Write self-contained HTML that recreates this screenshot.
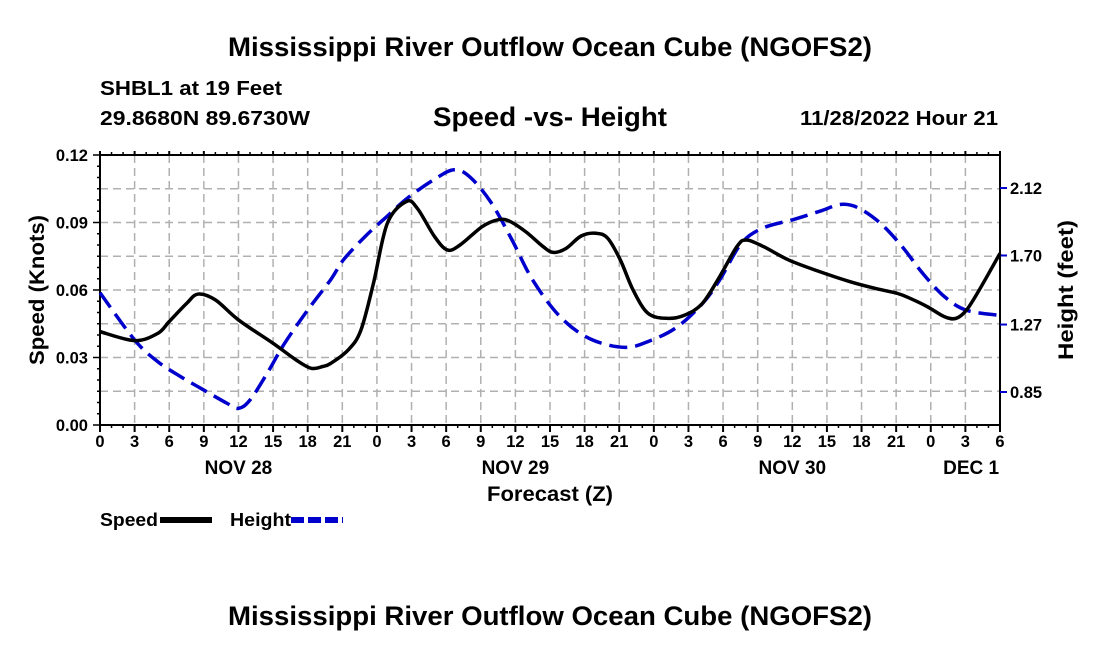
<!DOCTYPE html>
<html><head><meta charset="utf-8"><style>
body{margin:0;background:#fff}
svg text{font-family:"Liberation Sans",sans-serif;font-weight:bold;fill:#000}
</style></head><body>
<svg id="c" width="1100" height="650" xmlns="http://www.w3.org/2000/svg">
<text x="550" y="56" font-size="27" text-anchor="middle" textLength="644" lengthAdjust="spacingAndGlyphs">Mississippi River Outflow Ocean Cube (NGOFS2)</text>
<text x="100" y="95" font-size="20" textLength="182" lengthAdjust="spacingAndGlyphs">SHBL1 at 19 Feet</text>
<text x="100" y="125" font-size="20" textLength="210" lengthAdjust="spacingAndGlyphs">29.8680N  89.6730W</text>
<text x="550" y="126" font-size="27" text-anchor="middle" textLength="234" lengthAdjust="spacingAndGlyphs">Speed -vs- Height</text>
<text x="998" y="125" font-size="20" text-anchor="end" textLength="198" lengthAdjust="spacingAndGlyphs">11/28/2022 Hour 21</text>
<g id="grid"></g><g id="axes"></g><g id="series"></g>
<text transform="translate(44,290) rotate(-90)" font-size="21" text-anchor="middle" textLength="150" lengthAdjust="spacingAndGlyphs">Speed (Knots)</text>
<text transform="translate(1073,290) rotate(-90)" font-size="21" text-anchor="middle" textLength="140" lengthAdjust="spacingAndGlyphs">Height (feet)</text>
<text x="550" y="501" font-size="21" text-anchor="middle" textLength="126" lengthAdjust="spacingAndGlyphs">Forecast (Z)</text>
<g>
<text x="100" y="526" font-size="18" textLength="58" lengthAdjust="spacingAndGlyphs">Speed</text>
<line x1="160" y1="520" x2="212" y2="520" stroke="#000" stroke-width="6"/>
<text x="230" y="526" font-size="18" textLength="61" lengthAdjust="spacingAndGlyphs">Height</text>
<line x1="291" y1="520" x2="343" y2="520" stroke="#0000cc" stroke-width="6" stroke-dasharray="13,4"/>
</g>
<text x="550" y="625" font-size="27" text-anchor="middle" textLength="644" lengthAdjust="spacingAndGlyphs">Mississippi River Outflow Ocean Cube (NGOFS2)</text>
</svg>
<script>
const speedHours=[0,3,5,6,7.5,8.5,10,12,15,17,18.3,19.3,20,21.5,22.6,23.7,24.9,26.55,27.5,29,30.1,31.2,33.1,34.4,35.4,36.9,38.4,39.3,40.4,41.7,43,44,45.1,46.2,47.5,49.2,50.7,52.2,53.7,55.2,56,57.5,59.7,62.4,65,67.2,69.1,70.2,71.7,73.2,74.2,75.1,76.2,78];
const speedValues=[0.0415,0.0375,0.0407,0.046,0.054,0.0582,0.0556,0.0467,0.0363,0.0289,0.0252,0.026,0.0274,0.0333,0.042,0.063,0.0896,0.0993,0.0963,0.0837,0.0778,0.080,0.0881,0.0911,0.0908,0.0859,0.0793,0.0767,0.0785,0.084,0.0852,0.083,0.0733,0.060,0.0496,0.0474,0.0489,0.054,0.0659,0.0793,0.0822,0.0793,0.0733,0.0681,0.0637,0.0607,0.0585,0.0563,0.0526,0.0481,0.0474,0.0511,0.060,0.0763];
const heightHours=[0,3,5,7,9,11,12,13,14.5,16,18,20,21.1,23,24.9,26.7,29,30.7,32.1,33.9,35.7,37.5,39.9,42.5,45.5,47.7,50,52.2,53.7,55.6,57.5,60.1,62.4,64.2,65.7,67.6,69.5,71.3,73.2,75.1,78];
const heightValues=[1.468,1.174,1.039,0.945,0.862,0.78,0.748,0.80,0.968,1.153,1.36,1.55,1.673,1.82,1.945,2.06,2.175,2.234,2.186,2.029,1.798,1.547,1.317,1.18,1.128,1.17,1.254,1.40,1.547,1.777,1.872,1.924,1.976,2.018,1.997,1.903,1.757,1.589,1.443,1.359,1.327];
const speedTicks=[0,0.03,0.06,0.09,0.12];
const speedTickLabels=["0.00","0.03","0.06","0.09","0.12"];
const heightTicks=[0.85,1.27,1.70,2.12];
const heightTickLabels=["0.85","1.27","1.70","2.12"];
const hourTickLabels=["0","3","6","9","12","15","18","21","0","3","6","9","12","15","18","21","0","3","6","9","12","15","18","21","0","3","6"];
const dayLabels=["NOV 28","NOV 29","NOV 30","DEC 1"];
const dayHours=[12,36,60,75.5];

const L=100,R=1000,T=155,B=425,HMAX=78;
const xS=h=>L+(R-L)*h/HMAX;
const yS=v=>B-(B-T)*v/0.12;
const yH=f=>392-(f-0.85)*160.6;
const NS="http://www.w3.org/2000/svg";
function mk(tag,attrs,parent){const e=document.createElementNS(NS,tag);for(const k in attrs)e.setAttribute(k,attrs[k]);parent.appendChild(e);return e;}
const grid=document.getElementById('grid'),axes=document.getElementById('axes'),series=document.getElementById('series');
for(let v=0.015;v<0.12;v+=0.015){const g=mk('line',{x1:L,x2:R,y1:yS(v),y2:yS(v),stroke:'#b0b0b0','stroke-width':1.5,'stroke-dasharray':'8,5'},grid);

}
for(let i=1;i<26;i++){const g=mk('line',{x1:xS(i*3),x2:xS(i*3),y1:T,y2:B,stroke:'#b0b0b0','stroke-width':1.5,'stroke-dasharray':'8,5'},grid);

}
const fr=mk('rect',{x:L,y:T,width:R-L,height:B-T,fill:'none',stroke:'#000','stroke-width':2},axes);


for(let h=0;h<=HMAX;h++){const big=h%3==0;
mk('line',{x1:xS(h),x2:xS(h),y1:B,y2:B+(big?7:3),stroke:'#000','stroke-width':big?2:1.5},axes);
mk('line',{x1:xS(h),x2:xS(h),y1:T,y2:T-(big?4:3),stroke:'#000','stroke-width':big?2:1.5},axes);}
for(let v=0;v<=0.1201;v+=0.005){mk('line',{x1:L,x2:L-(Math.abs(v/0.03-Math.round(v/0.03))<0.01?7:3),y1:yS(v),y2:yS(v),stroke:'#000','stroke-width':1.5},axes);}
speedTicks.forEach((v,i)=>{const t=mk('text',{x:L-12,y:yS(v)+6,'font-size':16.5,'text-anchor':'end'},axes);t.textContent=speedTickLabels[i];

});
heightTicks.forEach((f,i)=>{mk('line',{x1:R,x2:R+7,y1:yH(f),y2:yH(f),stroke:'#0000cc','stroke-width':2},axes);
const t=mk('text',{x:R+10,y:yH(f)+6,'font-size':16.5},axes);t.textContent=heightTickLabels[i];

});
hourTickLabels.forEach((s,i)=>{const t=mk('text',{x:xS(i*3),y:B+22,'font-size':16.5,'text-anchor':'middle'},axes);t.textContent=s;

});
dayLabels.forEach((s,i)=>{const t=mk('text',{x:xS(dayHours[i]),y:B+49,'font-size':19,'text-anchor':'middle'},axes);t.textContent=s;

});
function smooth(pts){let d=`M${pts[0][0]},${pts[0][1]}`;
for(let i=0;i<pts.length-1;i++){const p0=pts[Math.max(0,i-1)],p1=pts[i],p2=pts[i+1],p3=pts[Math.min(pts.length-1,i+2)];
const c1=[p1[0]+(p2[0]-p0[0])/6,p1[1]+(p2[1]-p0[1])/6],c2=[p2[0]-(p3[0]-p1[0])/6,p2[1]-(p3[1]-p1[1])/6];
d+=`C${c1[0]},${c1[1]} ${c2[0]},${c2[1]} ${p2[0]},${p2[1]}`;}return d;}
const hp=mk('path',{d:smooth(heightHours.map((h,i)=>[xS(h),yH(heightValues[i])])),fill:'none',stroke:'#0000cc','stroke-width':3.5,'stroke-dasharray':'18,8'},series);


const sp=mk('path',{d:smooth(speedHours.map((h,i)=>[xS(h),yS(speedValues[i])])),fill:'none',stroke:'#000','stroke-width':3.5},series);


</script>
</body></html>
